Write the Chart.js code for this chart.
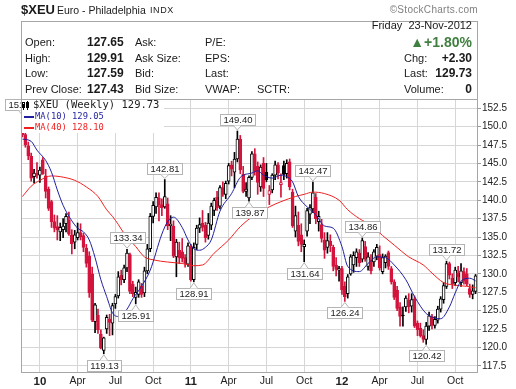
<!DOCTYPE html>
<html>
<head>
<meta charset="utf-8">
<script src="https://cdn.jsdelivr.net/npm/chart.js@4.4.0/dist/chart.umd.min.js"></script>
<style>
body { margin: 0; background: #fff; font-family: "Liberation Sans", Arial, sans-serif; color: #1a1a1a; }
#wrap { position: relative; width: 516px; height: 389px; overflow: hidden; }
canvas { position: absolute; left: 0; top: 0; }
.t { position: absolute; white-space: nowrap; font-size: 11px; line-height: 13px; }
.b { font-weight: bold; font-size: 12px; }
.r { text-align: right; right: 44px; }
#box { position: absolute; left: 21px; top: 21px; width: 457px; height: 79px; border: 1px solid #a6a6a6; border-bottom: none; box-sizing: border-box; }
</style>
</head>
<body>
<div id="wrap">
  <canvas id="c" width="516" height="389"></canvas>
  <div id="box"></div>
  <div class="t" style="left:21px;top:3px;font-size:13px;font-weight:bold">$XEU</div>
  <div class="t" style="left:57px;top:4px;font-size:10.5px">Euro - Philadelphia</div>
  <div class="t" style="left:150px;top:4px;font-size:9px;letter-spacing:0.6px">INDX</div>
  <div class="t" style="right:38px;top:3px;font-size:10px;color:#808080;letter-spacing:0.3px">&copy;StockCharts.com</div>

  <div class="t r" style="top:19px">Friday&nbsp;&nbsp;23-Nov-2012</div>

  <div class="t" style="left:25px;top:36px">Open:</div>
  <div class="t b" style="left:87px;top:36px">127.65</div>
  <div class="t" style="left:135px;top:36px">Ask:</div>
  <div class="t" style="left:205px;top:36px">P/E:</div>
  <div class="t r" style="top:34px;font-size:14px;line-height:16px;font-weight:bold;color:#3f7f3f">&#9650;+1.80%</div>

  <div class="t" style="left:25px;top:52px">High:</div>
  <div class="t b" style="left:87px;top:52px">129.91</div>
  <div class="t" style="left:135px;top:52px">Ask Size:</div>
  <div class="t" style="left:205px;top:52px">EPS:</div>
  <div class="t" style="left:404px;top:52px">Chg:</div>
  <div class="t r b" style="top:52px">+2.30</div>

  <div class="t" style="left:25px;top:67px">Low:</div>
  <div class="t b" style="left:87px;top:67px">127.59</div>
  <div class="t" style="left:135px;top:67px">Bid:</div>
  <div class="t" style="left:205px;top:67px">Last:</div>
  <div class="t" style="left:404px;top:67px">Last:</div>
  <div class="t r b" style="top:67px">129.73</div>

  <div class="t" style="left:25px;top:83px">Prev Close:</div>
  <div class="t b" style="left:87px;top:83px">127.43</div>
  <div class="t" style="left:135px;top:83px">Bid Size:</div>
  <div class="t" style="left:205px;top:83px">VWAP:</div>
  <div class="t" style="left:257px;top:83px">SCTR:</div>
  <div class="t" style="left:404px;top:83px">Volume:</div>
  <div class="t r b" style="top:83px">0</div>
</div>
<script>
// weekly candles, Nov 2009 - Nov 2012
const opens = [
  150.8,148.9,147.4,146.0,143.2,143.7,143.4,145.5,143.3,141.5,
  139.8,137.1,136.4,135.7,136.0,136.8,137.3,135.3,134.3,134.9,
  135.6,135.2,133.5,132.4,130.0,123.5,124.4,121.8,119.6,122.5,
  123.8,123.3,125.9,127.0,129.8,129.2,130.8,132.6,128.6,126.8,
  127.2,128.3,127.4,130.4,133.4,137.8,139.1,140.3,139.4,139.1,
  139.5,136.6,136.5,132.3,133.2,133.0,132.2,131.3,133.7,129.2,
  134.0,136.2,136.9,136.6,135.2,136.6,138.6,140.4,139.2,141.7,
  140.8,142.6,144.8,143.8,145.6,148.3,143.5,141.2,140.3,143.1,
  146.3,144.6,141.8,145.0,143.8,140.8,141.4,143.4,144.8,142.1,
  144.7,143.6,145.2,141.1,135.8,136.6,135.3,133.7,135.8,138.1,
  138.8,140.4,137.1,136.7,134.6,133.6,134.4,133.6,131.2,130.5,
  130.7,128.3,127.3,130.0,131.2,132.2,132.8,132.0,133.7,131.0,
  131.9,131.6,132.4,132.6,130.3,131.5,132.9,130.7,128.9,127.8,
  125.5,124.4,125.5,126.4,125.6,126.6,123.3,122.6,121.6,121.1,
  122.9,124.2,123.0,123.7,125.2,126.5,128.3,131.4,129.4,128.8,
  130.1,128.8,130.3,130.0,128.0,127.2,127.6
];
const highs = [
  151.44,150.9,147.9,146.4,144.2,145.1,144.5,145.8,144.2,141.8,
  140.0,138.0,137.9,136.9,137.5,138.2,138.4,136.0,135.9,136.9,
  136.8,135.5,134.0,133.0,130.9,126.0,125.2,122.4,121.4,124.4,
  124.5,126.0,127.2,130.3,130.5,131.2,133.34,132.8,129.0,128.2,
  129.2,128.7,130.9,134.0,138.2,139.8,141.0,141.0,140.2,142.81,
  140.3,137.9,137.2,134.7,134.3,134.8,132.6,134.2,134.0,134.2,
  136.6,137.6,138.6,137.0,138.2,139.6,140.3,141.2,142.0,142.5,
  142.6,145.0,145.3,146.5,149.40,148.8,144.6,142.4,143.3,146.6,
  147.0,145.2,144.8,145.8,145.0,142.0,143.6,145.3,145.1,143.6,
  145.3,145.5,145.6,141.5,139.2,138.4,136.8,134.6,138.9,139.4,
  142.47,140.9,138.5,137.4,135.6,135.6,135.3,133.9,132.2,131.0,
  131.0,128.9,129.9,132.6,133.0,133.4,133.3,134.86,134.4,132.9,
  132.6,133.3,134.0,133.8,132.7,132.6,133.1,131.0,129.2,128.3,
  126.1,125.5,127.0,127.3,127.3,127.0,123.6,123.3,122.4,123.4,
  124.8,124.5,124.2,125.6,126.9,128.8,131.72,131.6,130.0,130.9,
  131.0,131.4,130.8,130.7,128.6,128.5,129.91
];
const lows = [
  148.6,147.2,145.5,142.6,142.3,143.0,142.4,143.5,140.3,138.6,
  136.3,135.7,134.6,134.5,134.9,135.7,135.2,132.7,133.4,134.6,
  134.6,133.0,130.9,126.8,123.5,122.0,121.9,119.8,119.13,121.9,
  121.6,121.7,125.3,126.7,128.5,128.8,130.3,127.3,126.9,125.91,
  126.8,126.8,126.9,130.0,133.0,136.9,138.2,137.2,137.9,138.9,
  136.0,134.5,132.2,129.6,131.4,131.6,130.9,131.0,129.0,128.91,
  133.3,135.6,135.8,134.3,134.7,136.0,137.9,138.6,138.8,140.5,
  140.2,142.2,143.3,141.7,145.2,143.6,141.0,140.5,139.87,142.8,
  143.4,140.8,141.2,140.5,142.5,139.4,141.0,142.8,142.9,140.4,
  142.8,143.0,141.4,136.3,135.0,133.8,133.0,131.64,135.1,136.8,
  138.3,136.8,135.8,134.3,132.1,132.8,133.0,130.4,129.7,129.0,
  127.2,126.24,126.7,129.8,130.2,131.0,131.0,131.6,131.7,130.5,
  130.0,131.0,131.9,130.5,130.0,130.8,130.6,128.6,126.5,125.0,
  122.9,122.9,124.9,124.7,124.8,122.7,121.6,121.4,120.7,120.42,
  122.3,122.5,122.6,123.3,124.8,126.0,128.0,129.3,128.0,128.4,
  128.9,128.3,128.6,128.4,126.8,126.6,127.3
];
const closes = [
  148.9,147.5,146.0,143.0,143.7,143.4,144.1,143.6,141.2,138.9,
  137.1,136.2,136.0,136.3,136.5,137.8,135.4,134.1,135.3,135.6,
  135.0,133.6,131.4,127.4,123.7,125.8,122.4,119.9,121.3,124.1,
  123.4,125.7,126.9,129.6,129.2,130.8,132.8,127.6,127.3,127.5,
  128.9,127.2,130.4,133.4,137.8,139.3,140.4,139.4,139.0,140.5,
  136.5,136.7,132.4,134.3,132.2,132.1,131.4,133.8,129.2,133.6,
  136.2,136.7,136.3,134.9,136.9,139.2,140.0,139.0,141.7,140.8,
  142.3,144.7,144.2,145.6,148.3,144.1,141.2,141.5,143.1,146.3,
  143.9,142.4,144.5,141.6,142.8,141.3,143.4,144.8,143.7,142.4,
  143.5,145.0,141.8,136.5,137.9,134.4,134.0,134.0,138.6,139.0,
  141.0,137.5,137.8,134.8,133.2,134.5,133.8,131.0,130.6,130.7,
  127.8,126.9,129.6,132.3,132.5,133.0,131.5,134.5,132.0,132.3,
  130.4,133.0,133.6,130.8,132.2,132.4,131.0,128.9,126.8,125.3,
  124.2,124.3,126.7,125.5,126.5,122.9,122.4,121.6,121.1,122.9,
  124.3,123.0,123.8,125.2,126.6,128.4,131.4,129.8,128.6,130.5,
  129.6,130.4,129.0,128.6,127.2,127.7,129.73
];

// moving averages, read at sample weeks
const ma10Idx = [0,3,5,8,10,12,14,17,19,21,23,25,27,29,31,33,36,38,41,44,48,50,52,55,57,59,61,63,65,68,
  72,75,79,81,83,86,89,91,93,95,98,101,104,107,110,112,116,119,122,125,128,132,135,139,142,144,147,149,151,154,156];
const ma10Val = [148.3,148.0,146.8,145.4,143.8,141.4,139.3,137.2,136.2,135.7,134.6,132.2,129.2,126.9,124.7,124.2,125.2,126.6,128.3,130.5,
  135.4,137.1,137.7,136.3,134.6,133.4,133.2,133.6,134.6,138.5,140.9,143.1,143.7,144.0,143.4,143.0,143.4,143.2,142.5,140.5,
  139.1,138.0,136.5,136.2,133.7,131.0,130.3,131.4,132.3,132.2,131.2,129.2,126.9,124.6,124.0,123.9,125.5,127.4,129.0,129.4,129.05];
const ma40Idx = [0,3,6,10,13,18,22,26,29,31,33,35,39,42,45,50,55,59,62,66,
  71,75,80,85,89,94,97,100,104,109,112,116,120,124,128,133,138,141,145,148,153,156];
const ma40Val = [140.5,141.9,142.7,143.3,143.2,142.7,141.8,140.5,138.7,137.8,136.7,135.5,133.7,132.3,131.9,131.6,131.4,131.1,131.2,132.8,
  134.6,136.4,138.0,139.1,139.8,140.5,140.8,141.1,140.9,140.0,138.7,137.5,136.6,135.2,133.9,132.3,131.2,130.1,128.8,128.5,128.3,128.1];

// labelled highs and lows
const peakIdx = [0, 36, 49, 74, 100, 117, 146];
const peakVal = [151.44, 133.34, 142.81, 149.40, 142.47, 134.86, 131.72];
const troughIdx = [28, 39, 59, 78, 97, 111, 139];
const troughVal = [119.13, 125.91, 128.91, 139.87, 131.64, 126.24, 120.42];

const yTicks = [117.5,120,122.5,125,127.5,130,132.5,135,137.5,140,142.5,145,147.5,150,152.5];
const monthText = ['', 'Apr', 'Jul', 'Oct'];

// week categories (Monday of each week)
const weeks = closes.map((_, i) => new Date(Date.UTC(2009, 10, 23 + 7 * i)));
const labels = weeks.map(d => d.toISOString().slice(0, 10));
const tickIdx = [];
const tickText = {};
weeks.forEach((d, i) => {
  if (i === 0 || d.getUTCMonth() === weeks[i - 1].getUTCMonth() || d.getUTCMonth() % 3) return;
  tickIdx.push(i);
  tickText[i] = d.getUTCMonth() === 0 ? String(d.getUTCFullYear() % 100).padStart(2, '0') : monthText[d.getUTCMonth() / 3];
});

const RED = '#d3143c';
const color = closes.map((c, i) => (c >= (i ? closes[i - 1] : opens[i])) ? '#000' : RED);
const fill = closes.map((c, i) => c > opens[i] ? '#fff' : color[i]);
const bodies = closes.map((c, i) => {
  let lo = Math.min(c, opens[i]), hi = Math.max(c, opens[i]);
  if (hi - lo < 0.1) { lo -= 0.05; hi += 0.05; }
  return [lo, hi];
});
const wicks = lows.map((l, i) => [l, highs[i]]);

function drawTag(ctx, px, py, text, above) {
  ctx.font = '9.5px "Liberation Sans", Arial';
  const w = Math.round(ctx.measureText(text).width) + 6, h = 11;
  let bx = Math.max(1, Math.round(px - w / 2)) + 0.5;
  const by = above ? Math.round(py - 6 - h) + 0.5 : Math.round(py + 6) + 0.5;
  ctx.fillStyle = '#fff';
  ctx.strokeStyle = '#b4b4b4';
  ctx.lineWidth = 1;
  ctx.fillRect(bx, by, w, h);
  ctx.strokeRect(bx, by, w, h);
  // pointer
  const edge = above ? by + h : by;
  ctx.beginPath();
  ctx.moveTo(px - 4, edge);
  ctx.lineTo(px, above ? py - 1 : py + 1);
  ctx.lineTo(px + 4, edge);
  ctx.fill();
  ctx.stroke();
  ctx.fillStyle = '#222';
  ctx.textAlign = 'center';
  ctx.textBaseline = 'middle';
  ctx.fillText(text, bx + w / 2, by + h / 2 + 0.5);
}

const overlay = {
  id: 'overlay',
  afterDraw(chart) {
    const { ctx, chartArea: a, scales: { x, y } } = chart;
    ctx.save();
    peakIdx.forEach((idx, k) => drawTag(ctx, x.getPixelForValue(idx), y.getPixelForValue(peakVal[k]), peakVal[k].toFixed(2), true));
    troughIdx.forEach((idx, k) => drawTag(ctx, x.getPixelForValue(idx), y.getPixelForValue(troughVal[k]), troughVal[k].toFixed(2), false));

    // legend
    ctx.fillStyle = '#fff';
    ctx.fillRect(21, a.top + 1, 143, 33);
    ctx.fillStyle = '#000';
    ctx.fillRect(23, 104, 1, 6);
    ctx.strokeStyle = '#000';
    ctx.lineWidth = 1;
    ctx.strokeRect(22.5, 102.5, 2, 5);
    ctx.fillRect(27, 101, 1, 9);
    ctx.fillRect(26, 102, 3, 6);
    ctx.textAlign = 'left';
    ctx.textBaseline = 'middle';
    ctx.font = '10.5px "DejaVu Sans Mono"';
    ctx.fillStyle = '#222';
    ctx.fillText('$XEU (Weekly) 129.73', 33, 105.5);
    ctx.font = '8.8px "DejaVu Sans Mono"';
    ctx.fillStyle = '#1f1f9e';
    ctx.fillRect(24, 116, 10, 2);
    ctx.fillText('MA(10) 129.05', 35, 117);
    ctx.fillStyle = '#f02020';
    ctx.fillRect(24, 127, 10, 2);
    ctx.fillText('MA(40) 128.10', 35, 128);

    // plot frame
    ctx.strokeStyle = '#a6a6a6';
    ctx.strokeRect(Math.round(a.left) + 0.5, Math.round(a.top) + 0.5, Math.round(a.right - a.left), Math.round(a.bottom - a.top));
    ctx.restore();
  }
};

new Chart(document.getElementById('c'), {
  type: 'bar',
  data: {
    labels: labels,
    datasets: [
      {
        type: 'line',
        data: ma10Idx.map((v, k) => ({ x: labels[v], y: ma10Val[k] })),
        borderColor: '#1f1f9e', borderWidth: 1, pointRadius: 0,
        cubicInterpolationMode: 'monotone', spanGaps: true, order: 0
      },
      {
        type: 'line',
        data: ma40Idx.map((v, k) => ({ x: labels[v], y: ma40Val[k] })),
        borderColor: '#f02020', borderWidth: 1, pointRadius: 0,
        cubicInterpolationMode: 'monotone', spanGaps: true, order: 0
      },
      {
        data: bodies, backgroundColor: fill, borderColor: color, borderWidth: 1,
        borderSkipped: false, barThickness: 3, grouped: false, order: 1
      },
      {
        data: wicks, backgroundColor: color, barThickness: 1, grouped: false, order: 2
      }
    ]
  },
  options: {
    responsive: false,
    animation: false,
    events: [],
    layout: { padding: { left: 21, top: 99, right: 0, bottom: 0 } },
    plugins: { legend: { display: false }, tooltip: { enabled: false } },
    scales: {
      x: {
        offset: true,
        grid: { offset: false, color: '#d6d6d6', drawTicks: false },
        border: { display: false },
        afterBuildTicks: s => { s.ticks = tickIdx.map(v => ({ value: v })); },
        afterFit: s => { s.height = 17; },
        ticks: {
          autoSkip: false, maxRotation: 0, padding: 3, color: '#222',
          callback: v => tickText[v],
          font: c => (c.tick && c.tick.label && /^\d/.test(c.tick.label))
            ? { family: '"Liberation Sans", Arial', size: 11.5, weight: 'bold' }
            : { family: '"Liberation Sans", Arial', size: 10.5 }
        }
      },
      y: {
        position: 'right',
        min: 116.66, max: 153.75,
        grid: { color: '#d6d6d6', tickLength: 4, tickColor: '#999' },
        border: { display: false },
        afterBuildTicks: s => { s.ticks = yTicks.map(v => ({ value: v })); },
        afterFit: s => { s.width = 39; },
        ticks: {
          padding: 1, color: '#222',
          font: { family: '"Liberation Sans", Arial', size: 10 },
          callback: v => v.toFixed(1)
        }
      }
    }
  },
  plugins: [overlay]
});
</script>
</body>
</html>
